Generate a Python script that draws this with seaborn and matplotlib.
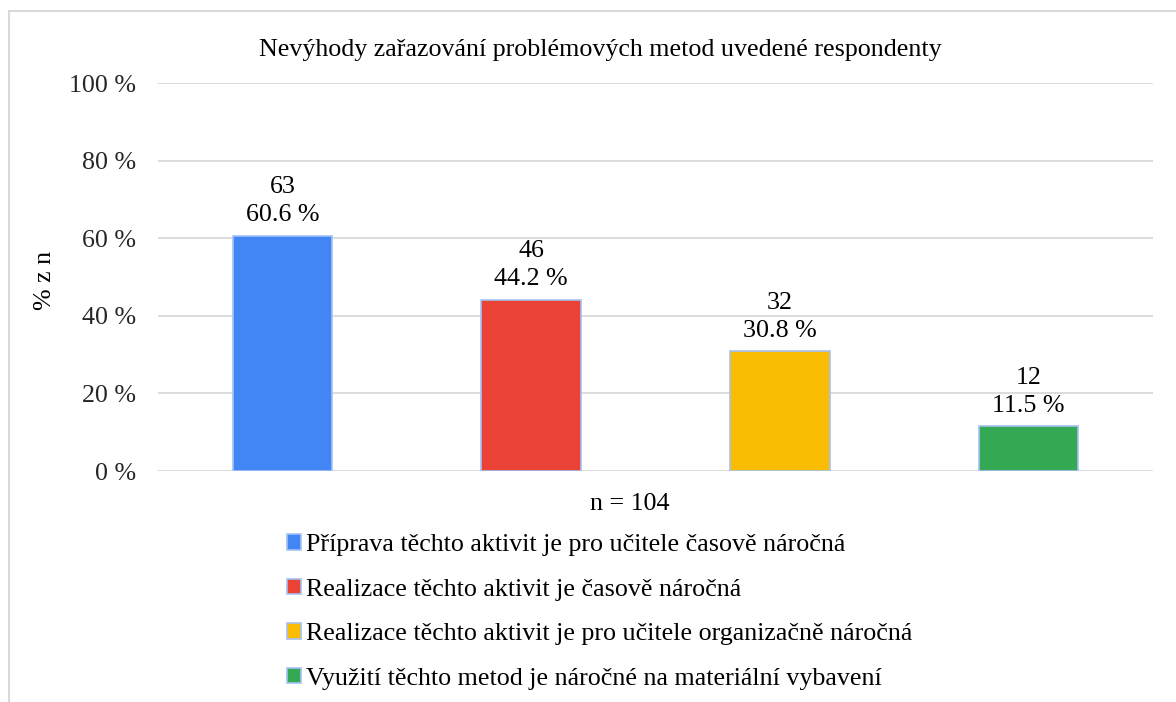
import matplotlib
matplotlib.use("Agg")
import matplotlib.pyplot as plt
import seaborn as sns
import pandas as pd
from matplotlib.lines import Line2D


CATEGORIES = [
    "Příprava těchto aktivit je pro učitele časově náročná",
    "Realizace těchto aktivit je časově náročná",
    "Realizace těchto aktivit je pro učitele organizačně náročná",
    "Využití těchto metod je náročné na materiální vybavení",
]
COUNTS = [63, 46, 32, 12]
PERCENTS = [60.6, 44.2, 30.8, 11.5]
COLORS = ["#4285F4", "#EA4335", "#FBBC04", "#34A853"]
Y_TICKS = [0, 20, 40, 60, 80, 100]

TITLE = "Nevýhody zařazování problémových metod uvedené respondenty"
X_TITLE = "n = 104"
Y_TITLE = "% z n"

W, H = 1176, 702
FONT_SIZE = 18.7
GRID_COLOR = "#d9d9d9"


def main():
    sns.set_theme(style="white")
    plt.rcParams["font.family"] = ["Liberation Serif", "DejaVu Serif"]
    plt.rcParams["text.color"] = "#000000"

    df = pd.DataFrame({
        "category": CATEGORIES,
        "percent": PERCENTS,
        "count": COUNTS,
    })

    fig = plt.figure(figsize=(W / 100, H / 100), dpi=100)
    ax = fig.add_axes([158 / W, 1 - 471 / H, (1153 - 158) / W, (471 - 83) / H])

    sns.barplot(
        data=df,
        x="category",
        y="percent",
        hue="category",
        palette=COLORS,
        saturation=1,
        width=0.4,
        edgecolor="#a4c2f4",
        linewidth=1.2,
        legend=True,
        ax=ax,
    )

    ax.set_ylim(0, 100)
    ax.set_xlim(-0.5, len(CATEGORIES) - 0.5)
    ax.set_yticks(Y_TICKS)
    ax.set_yticklabels([f"{t} %" for t in Y_TICKS], fontsize=FONT_SIZE)
    ax.set_xticks([])
    ax.set_xlabel("")
    ax.set_ylabel("")
    ax.tick_params(axis="y", length=0, pad=16)
    for side in ax.spines.values():
        side.set_visible(False)
    ax.yaxis.grid(True, color=GRID_COLOR, linewidth=1.3)
    ax.set_axisbelow(True)

    for container, count, pct in zip(ax.containers, COUNTS, PERCENTS):
        ax.bar_label(
            container,
            labels=[f"{count}\n{pct:.1f} %"],
            padding=7,
            fontsize=FONT_SIZE,
            linespacing=1.35,
        )

    handles, labels = ax.get_legend_handles_labels()
    ax.legend(
        handles,
        labels,
        loc="upper left",
        bbox_to_anchor=(287 / W, 1 - 534 / H),
        bbox_transform=fig.transFigure,
        frameon=False,
        fontsize=FONT_SIZE,
        handlelength=0.55,
        handleheight=0.55,
        handletextpad=0.2,
        labelspacing=0.87,
        borderpad=0,
        borderaxespad=0,
    )

    fig.text(600 / W, 1 - 50 / H, TITLE, ha="center", va="center", fontsize=FONT_SIZE)
    fig.text(630 / W, 1 - 504 / H, X_TITLE, ha="center", va="center", fontsize=FONT_SIZE)
    fig.text(45 / W, 1 - 280 / H, Y_TITLE, ha="center", va="center",
             rotation=90, fontsize=FONT_SIZE)

    # chart frame, only top and left edges are inside the picture
    fig.add_artist(Line2D([9 / W, 1], [1 - 11 / H, 1 - 11 / H],
                          transform=fig.transFigure, color=GRID_COLOR, linewidth=1.5))
    fig.add_artist(Line2D([9 / W, 9 / W], [0, 1 - 11 / H],
                          transform=fig.transFigure, color=GRID_COLOR, linewidth=1.5))

    fig.savefig("out.png", dpi=100)
    plt.close(fig)


if __name__ == "__main__":
    main()
